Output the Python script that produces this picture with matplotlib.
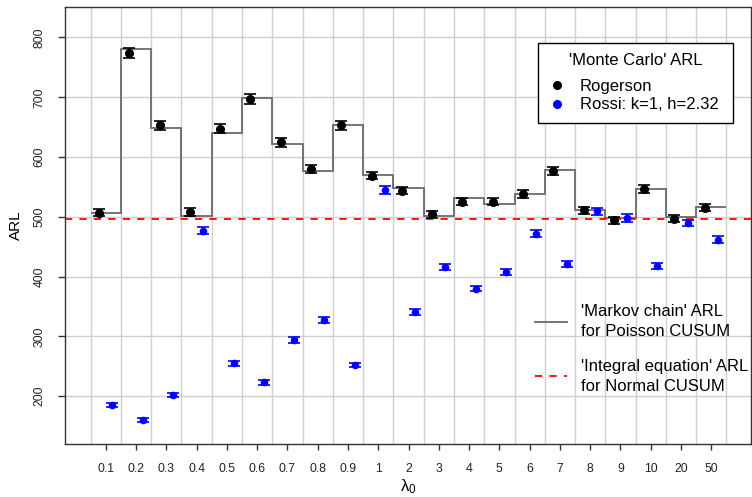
import numpy as np
import matplotlib
matplotlib.use("Agg")
import matplotlib.pyplot as plt
from matplotlib.lines import Line2D

plt.rcParams['font.family'] = ['Liberation Sans', 'DejaVu Sans']
plt.rcParams['mathtext.fontset'] = 'custom'
plt.rcParams['mathtext.rm'] = 'Liberation Sans'
plt.rcParams['mathtext.it'] = 'Liberation Sans'

# ---- data ----
categories = ['0.1', '0.2', '0.3', '0.4', '0.5', '0.6', '0.7', '0.8', '0.9',
              '1', '2', '3', '4', '5', '6', '7', '8', '9', '10', '20', '50']
markov_arl = [506, 781, 649, 501, 641, 698, 622, 577, 653, 570, 548, 501,
              531, 522, 539, 579, 512, 498, 547, 500, 517]
rogerson_arl = [507, 774, 653, 508, 647, 697, 625, 580, 653, 569, 544, 504,
                525, 525, 538, 577, 511, 494, 547, 497, 515]
rogerson_err = [6, 9, 8, 6.5, 7.5, 8.5, 7.5, 7, 8, 6.5, 6.5, 6, 6, 6, 6.5,
                7, 6, 5.5, 6.5, 6, 6]
rossi_arl = [185, 160, 202, 477, 255, 223, 294, 327, 252, 545, 341, 416,
             380, 407, 472, 421, 509, 498, 417, 490, 462]
rossi_err = [3.5, 3, 3.5, 6, 4, 3.5, 4.5, 5, 4, 6, 4.5, 5, 4.5, 5, 5.5, 5,
             6, 6, 5, 5.5, 5.5]
normal_arl = 497

x = np.arange(len(categories))
off = 0.22

fig = plt.figure(figsize=(7.52, 4.97), dpi=100)
ax = fig.add_axes([65/752, 1-444/497, (751-65)/752, (444-7)/497])

# grid
for xv in np.arange(-0.5, len(categories), 1.0):
    ax.axvline(xv, color='#cfcfcf', lw=1.0, zorder=0)
for yv in [200, 300, 400, 500, 600, 700, 800]:
    ax.axhline(yv, color='#cfcfcf', lw=1.0, zorder=0)

# Markov chain step
ax.stairs(markov_arl, edges=np.arange(len(categories)+1)-0.5, baseline=None,
          color='#6a6a6a', lw=1.3, zorder=2)
# Normal CUSUM line
ax.axhline(normal_arl, color='#ff0000', lw=1.3, ls=(0, (4, 4)), zorder=2)

ax.errorbar(x - off, rogerson_arl, yerr=rogerson_err, fmt='o', color='black',
            ms=5.5, capsize=4.2, elinewidth=1.2, capthick=1.2, zorder=3)
ax.errorbar(x + off, rossi_arl, yerr=rossi_err, fmt='o', color='#0000ff',
            ms=4.5, capsize=4.2, elinewidth=1.2, capthick=1.2, zorder=3)

ax.set_xlim(-1.345, 21.31)
ax.set_ylim(120, 851)
ax.set_xticks(x)
ax.set_xticklabels(categories)
ax.set_yticks([200, 300, 400, 500, 600, 700, 800])
ax.set_yticklabels(['200', '300', '400', '500', '600', '700', '800'],
                   rotation=90, va='center')
ax.tick_params(axis='x', length=4, width=1, color='#333333', pad=10,
               labelsize=8.8, labelcolor='#222222')
ax.tick_params(axis='y', length=5, width=1, color='#333333', pad=9,
               labelsize=8.8, labelcolor='#222222')
for s in ax.spines.values():
    s.set_color('#333333')
    s.set_linewidth(1.0)

ax.set_ylabel('ARL', fontsize=11)
ax.set_xlabel(r'$\lambda_0$', fontsize=12)
ax.yaxis.set_label_coords((23-65)/686, 0.5)
ax.xaxis.set_label_coords(0.5, (444-477)/437)

# legend 1
h1 = [Line2D([], [], ls='none', marker='o', color='black', ms=5.5),
      Line2D([], [], ls='none', marker='o', color='#0000ff', ms=5.5)]
leg1 = ax.legend(h1, ['Rogerson', 'Rossi: k=1, h=2.32'],
                 title="'Monte Carlo' ARL", title_fontsize=12, fontsize=12,
                 loc='upper left',
                 bbox_to_anchor=((538-65)/686, (444-43)/437, (733-538)/686, 0.0),
                 mode='expand', borderaxespad=0, fancybox=False,
                 edgecolor='black', framealpha=1, handlelength=1.0,
                 handletextpad=0.9, labelspacing=0.21, borderpad=0.62)
leg1.get_frame().set_linewidth(1.0)
leg1._legend_box.sep = 7.6
ax.add_artist(leg1)

# legend 2
h2 = [Line2D([], [], color='#6a6a6a', lw=1.3),
      Line2D([], [], color='#ff0000', lw=1.3, ls=(0, (4, 4)))]
leg2 = ax.legend(h2, ["'Markov chain' ARL\nfor Poisson CUSUM",
                      "'Integral equation' ARL\nfor Normal CUSUM"],
                 fontsize=12, loc='upper left',
                 bbox_to_anchor=((535-65)/686, (444-304)/437),
                 borderaxespad=0, borderpad=0, frameon=False,
                 handlelength=1.9, handletextpad=0.85, labelspacing=1.17)
for t in leg2.get_texts():
    t.set_linespacing(1.42)

fig.savefig('out.png', dpi=100)
